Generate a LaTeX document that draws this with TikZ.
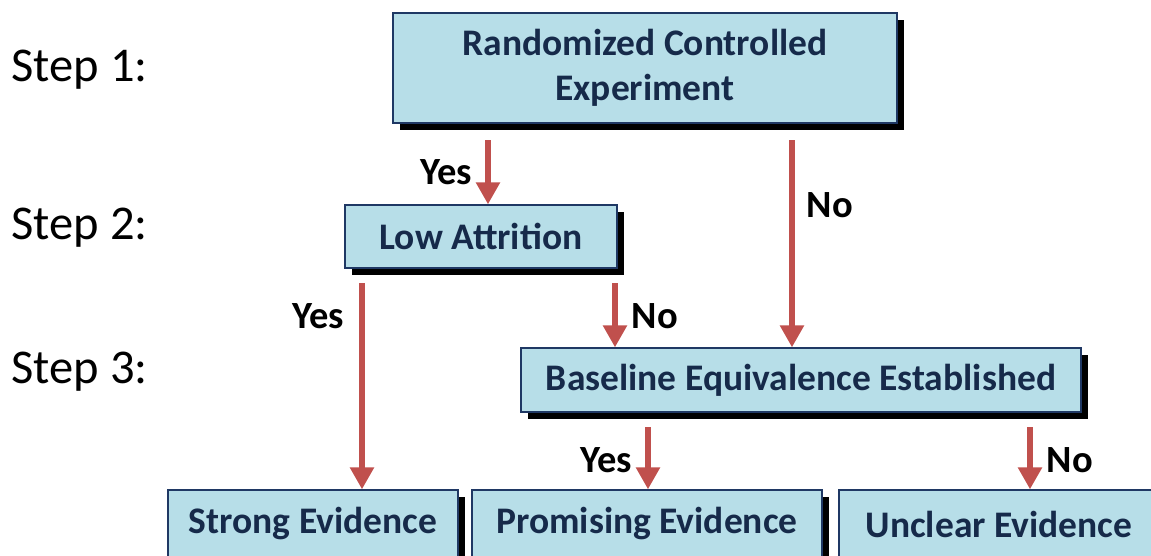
\documentclass[tikz,border=0pt]{standalone}
\usepackage{fontspec}
\setmainfont{Carlito}
\usepackage{xcolor}
\usetikzlibrary{shapes,arrows.meta,positioning,shadows,calc}
\definecolor{boxblue}{RGB}{183,222,232}
\definecolor{boxline}{RGB}{31,56,100}
\definecolor{boxtext}{RGB}{22,42,74}
\definecolor{arrowred}{RGB}{192,80,77}

\begin{document}
\begin{tikzpicture}[x=1pt, y=-1pt,
    box/.style={rectangle, draw=boxline, line width=1.3pt, fill=boxblue, inner sep=0pt,
      align=center, text=boxtext, font=\fontsize{37.5}{45}\selectfont\bfseries,
      drop shadow={shadow xshift=7pt, shadow yshift=-7pt, fill=black, opacity=1}},
    arr/.style={draw=arrowred, line width=5.5pt, -{Triangle[length=22pt, width=23pt]}},
    answer/.style={font=\fontsize{38.5}{42}\selectfont\bfseries},
    steplabel/.style={anchor=west, font=\fontsize{48.5}{54}\selectfont}]
				\clip (0,0) rectangle (1151,555);
				
				\node[steplabel] (s1) at (8,70) {Step 1:};
				\node[steplabel] (s2) at (8,228) {Step 2:};
				\node[steplabel] (s3) at (8,372) {Step 3:};
				
				\node[box, minimum width=504pt, minimum height=110pt] (rce) at (645,68) {Randomized Controlled\\Experiment};
				\node[box, minimum width=272pt, minimum height=63pt] (low) at (481,236.5) {Low Attrition};
				\node[box, minimum width=560pt, minimum height=64pt] (base) at (801,380) {Baseline Equivalence Established};
				\node[box, minimum width=290pt, minimum height=68pt] (strong) at (313,524) {Strong Evidence};
				\node[box, minimum width=350pt, minimum height=68pt] (prom) at (647,524) {Promising Evidence};
				\node[box, minimum width=320pt, minimum height=68pt] (uncl) at (999,524) {Unclear Evidence};
				
				% arrow starts, below the boxes
				\coordinate (rceyes) at (488,140);
				\coordinate (rceno) at (792,140);
				\coordinate (lowyes) at (362,283);
				\coordinate (lowno) at (615,283);
				\coordinate (baseyes) at (648,427);
				\coordinate (baseno) at (1030,427);
				
				\draw[arr] (rceyes) -- (rceyes |- low.north);
				\draw[arr] (rceno) -- (rceno |- base.north);
				\draw[arr] (lowyes) -- (lowyes |- strong.north);
				\draw[arr] (lowno) -- (lowno |- base.north);
				\draw[arr] (baseyes) -- (baseyes |- prom.north);
				\draw[arr] (baseno) -- (baseno |- uncl.north);
				
				\node[answer] (y1) at (446,172) {Yes};
				\node[answer] (n1) at (830,205) {No};
				\node[answer] (y2) at (318,316) {Yes};
				\node[answer] (n2) at (655,316) {No};
				\node[answer] (y3) at (606,460) {Yes};
				\node[answer] (n3) at (1070,460) {No};
			\end{tikzpicture}
\end{document}
